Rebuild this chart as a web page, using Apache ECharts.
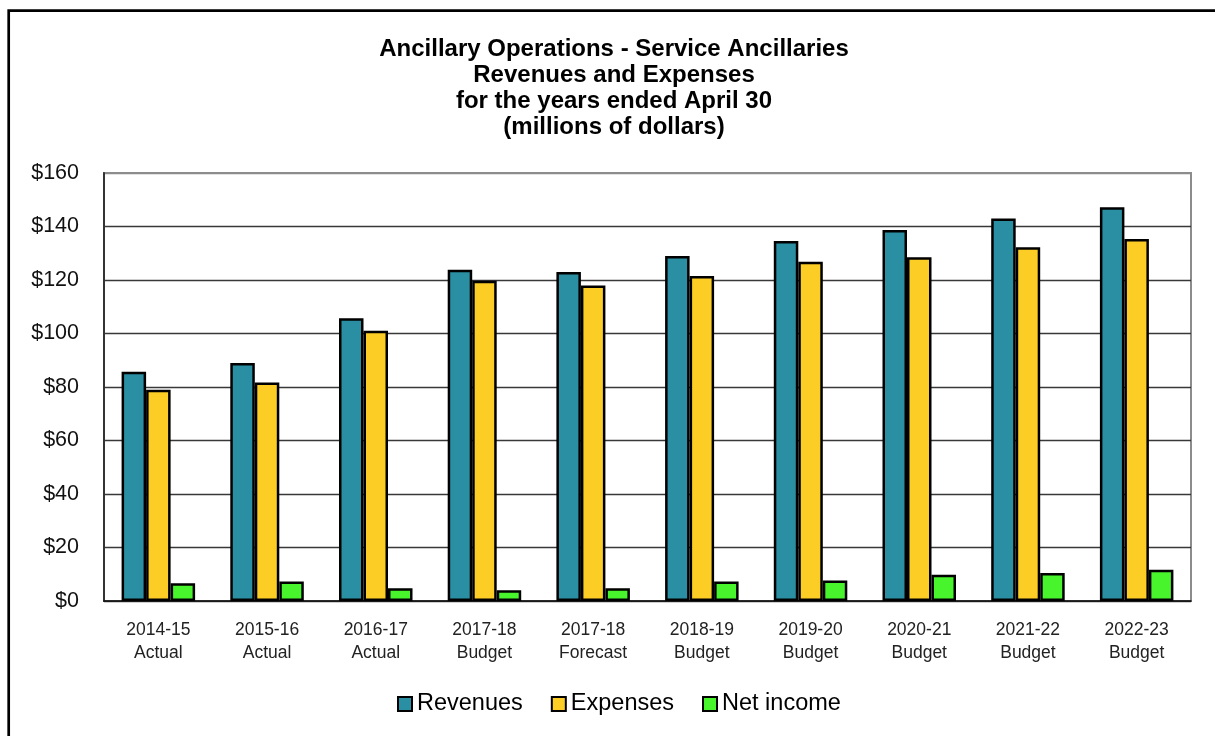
<!DOCTYPE html>
<html>
<head>
<meta charset="utf-8">
<script src="https://cdn.jsdelivr.net/npm/echarts@6/dist/echarts.min.js"></script>
<style>
  html, body { margin: 0; padding: 0; background: #fff; }
  #chart { width: 1215px; height: 736px; }
</style>
</head>
<body>
<div id="chart"></div>
<script>
// Fiscal years, with the status of each figure on a second line
const categories = [
  '2014-15\nActual', '2015-16\nActual', '2016-17\nActual', '2017-18\nBudget',
  '2017-18\nForecast', '2018-19\nBudget', '2019-20\nBudget', '2020-21\nBudget',
  '2021-22\nBudget', '2022-23\nBudget'
];

// Millions of dollars
const revenues  = [85.7, 89.0, 105.7, 123.8, 123.0, 129.0, 134.6, 138.7, 143.0, 147.2];
const expenses  = [79.0, 81.7, 101.0, 119.7, 117.9, 121.5, 126.8, 128.5, 132.2, 135.3];
const netIncome = [6.6, 7.3, 4.8, 4.0, 4.8, 7.3, 7.7, 9.8, 10.5, 11.7];

const yTicks = [0, 20, 40, 60, 80, 100, 120, 140, 160];

const titleLines = [
  'Ancillary Operations - Service Ancillaries',
  'Revenues and Expenses',
  'for the years ended April 30',
  '(millions of dollars)'
];

const colors = { revenues: '#2A8FA3', expenses: '#FCCD25', net: '#48F52C' };

const chart = echarts.init(document.getElementById('chart'), null, { renderer: 'canvas' });

function barSeries(name, data, color) {
  return {
    name: name,
    type: 'bar',
    data: data,
    barWidth: 24.5,
    barGap: '0%',
    itemStyle: { color: color, borderColor: '#000', borderWidth: 2.5 },
    emphasis: { disabled: true }
  };
}

const gridLineColors = yTicks.map((v, i) => (i === yTicks.length - 1 ? '#8c8c8c' : '#383838'));

chart.setOption({
  animation: false,
  backgroundColor: '#fff',
  textStyle: { fontFamily: '"Liberation Sans", Arial, sans-serif' },
  title: {
    text: titleLines.join('\n'),
    left: 614,
    textAlign: 'center',
    top: 36,
    padding: 0,
    textStyle: {
      fontFamily: '"Liberation Sans", Arial, sans-serif',
      fontWeight: 'bold',
      fontSize: 24,
      lineHeight: 26,
      color: '#000'
    }
  },
  graphic: [{
    type: 'rect',
    shape: { x: 8.7, y: 10.7, width: 1240, height: 760 },
    style: { fill: 'none', stroke: '#000', lineWidth: 2.7 },
    silent: true,
    z: 100
  }],
  legend: {
    bottom: 20,
    left: 397,
    itemWidth: 14,
    itemHeight: 14,
    itemGap: 28,
    icon: 'rect',
    padding: 0,
    textStyle: {
      fontFamily: '"Liberation Sans", Arial, sans-serif',
      fontSize: 23.5,
      color: '#000'
    },
    itemStyle: { borderColor: '#000', borderWidth: 2 },
    data: ['Revenues', 'Expenses', 'Net income']
  },
  grid: {
    left: 104,
    right: 24,
    top: 173,
    bottom: 135,
    show: true,
    borderColor: '#8c8c8c',
    borderWidth: 2,
    containLabel: false
  },
  xAxis: {
    type: 'category',
    data: categories,
    axisLine: { show: true, lineStyle: { color: '#111', width: 1.5 } },
    axisTick: { show: false },
    axisLabel: {
      interval: 0,
      margin: 18,
      fontFamily: '"Liberation Sans Narrow", "Arial Narrow", "Liberation Sans", sans-serif',
      fontSize: 17.5,
      lineHeight: 23,
      color: '#222'
    }
  },
  yAxis: {
    type: 'value',
    min: 0,
    max: 160,
    interval: 20,
    axisLine: { show: true, lineStyle: { color: '#333', width: 2 } },
    axisTick: { show: false },
    splitLine: { show: true, lineStyle: { color: gridLineColors, width: 1.4 } },
    axisLabel: {
      margin: 25,
      fontFamily: '"Liberation Sans", Arial, sans-serif',
      fontSize: 21.5,
      color: '#111',
      formatter: v => '$' + v
    }
  },
  series: [
    barSeries('Revenues', revenues, colors.revenues),
    barSeries('Expenses', expenses, colors.expenses),
    barSeries('Net income', netIncome, colors.net)
  ]
});
</script>
</body>
</html>
